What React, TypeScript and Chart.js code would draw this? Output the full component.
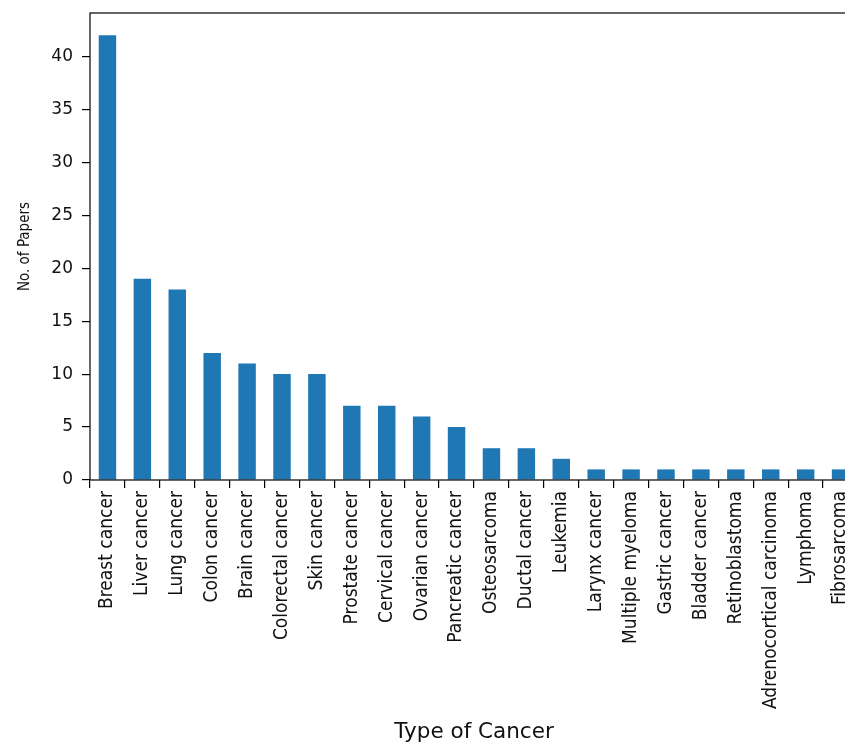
import React, { useEffect, useRef } from "react";
import { Chart, registerables } from "chart.js";

Chart.register(...registerables);

const categories = [
  "Breast cancer", "Liver cancer", "Lung cancer", "Colon cancer", "Brain cancer",
  "Colorectal cancer", "Skin cancer", "Prostate cancer", "Cervical cancer", "Ovarian cancer",
  "Pancreatic cancer", "Osteosarcoma", "Ductal cancer", "Leukemia", "Larynx cancer",
  "Multiple myeloma", "Gastric cancer", "Bladder cancer", "Retinoblastoma",
  "Adrenocortical carcinoma", "Lymphoma", "Fibrosarcoma",
];
const papers = [42, 19, 18, 12, 11, 10, 10, 7, 7, 6, 5, 3, 3, 2, 1, 1, 1, 1, 1, 1, 1, 1];
const yMax = 44.1;
const yStep = 5;
const xTitle = "Type of Cancer";
const yTitle = "No. of Papers";

const CANVAS_W = 862;
const CANVAS_H = 742;

const framePlugin = {
  id: "frame",
  afterDraw(chart: any) {
    const { ctx, chartArea } = chart;
    ctx.save();
    ctx.strokeStyle = "#000";
    ctx.lineWidth = 1.2;
    ctx.strokeRect(chartArea.left, chartArea.top, chartArea.right - chartArea.left, chartArea.bottom - chartArea.top);
    ctx.restore();
  },
};

export default function App() {
  const ref = useRef<HTMLCanvasElement | null>(null);
  useEffect(() => {
    if (!ref.current) return;
    const chart = new Chart(ref.current, {
      type: "bar",
      data: {
        labels: categories,
        datasets: [
          {
            data: papers,
            backgroundColor: "#1f77b4",
            borderWidth: 0,
            barPercentage: 0.5,
            categoryPercentage: 1,
          },
        ],
      },
      options: {
        animation: false,
        responsive: false,
        devicePixelRatio: 1,
        layout: { padding: { top: 13, right: 4, left: 0, bottom: 0 } },
        plugins: {
          legend: { display: false },
          tooltip: { enabled: false },
        },
        scales: {
          x: {
            afterFit: (s: any) => { s.height = 262; s.paddingLeft = 0; s.paddingRight = 0; },
            grid: { drawOnChartArea: false, drawTicks: true, tickLength: 8, color: "#000", lineWidth: 1.2 },
            border: { display: false },
            ticks: {
              autoSkip: false,
              maxRotation: 90,
              minRotation: 90,
              padding: 3,
              color: "#111",
              font: { family: "'DejaVu Sans Condensed', 'DejaVu Sans'", size: 19 },
            },
            title: {
              display: true,
              text: xTitle,
              color: "#111",
              font: { family: "'DejaVu Sans'", size: 21.5 },
              padding: { top: 0, bottom: -3 },
            },
          },
          y: {
            min: 0,
            max: yMax,
            afterFit: (s: any) => { s.width = 90; s.paddingTop = 0; s.paddingBottom = 0; },
            grid: { drawOnChartArea: false, drawTicks: true, tickLength: 8, color: "#000", lineWidth: 1.2 },
            border: { display: false },
            ticks: {
              stepSize: yStep,
              includeBounds: false,
              padding: 9,
              color: "#111",
              font: { family: "'DejaVu Sans'", size: 17 },
            },
            title: {
              display: true,
              text: yTitle,
              color: "#111",
              font: { family: "'DejaVu Sans Condensed', 'DejaVu Sans'", size: 15 },
              padding: { top: 16, bottom: 0 },
            },
          },
        },
      },
      plugins: [framePlugin],
    });
    return () => chart.destroy();
  }, []);
  return (
    <div style={{ position: "absolute", left: 0, top: 0, width: 845, height: 742, overflow: "hidden", background: "#fff" }}>
      <canvas ref={ref} width={CANVAS_W} height={CANVAS_H} style={{ display: "block", width: CANVAS_W, height: CANVAS_H }} />
    </div>
  );
}
